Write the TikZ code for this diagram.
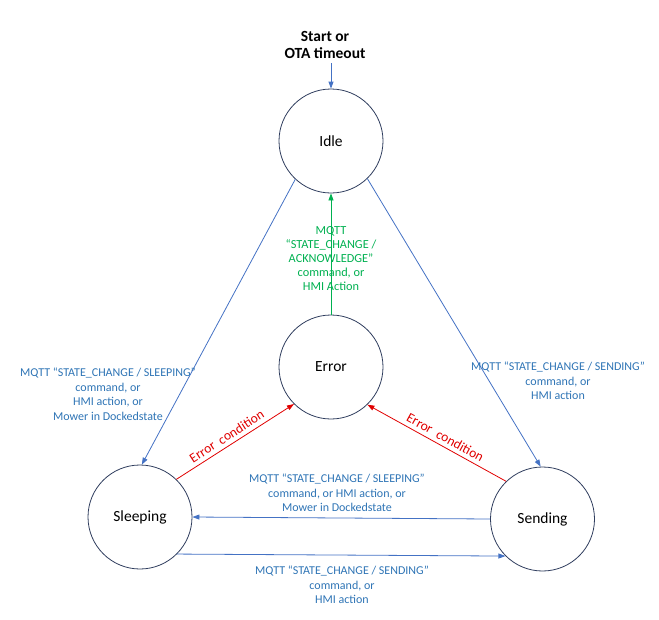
\documentclass[tikz,border=0pt]{standalone}
\usepackage{fontspec}
\setmainfont{Carlito}
\usetikzlibrary{arrows.meta}
\definecolor{navy}{HTML}{2F3D5E}
\definecolor{lblue}{HTML}{4472C4}
\definecolor{tblue}{HTML}{2E74B5}
\definecolor{ered}{HTML}{E00000}
\definecolor{agreen}{HTML}{00B050}
\tikzset{
  state/.style={circle, draw=navy, line width=0.8pt, minimum size=104pt, inner sep=0pt, font=\fontsize{15.5}{18}\selectfont},
  lbl/.style={align=center, text=tblue, font=\fontsize{12}{14.5}\selectfont, inner sep=0pt},
  glbl/.style={align=center, text=agreen, font=\fontsize{12.3}{14}\selectfont, inner sep=0pt},
  bconn/.style={draw=lblue, line width=0.8pt, -{Triangle[length=7pt,width=5pt]}},
  rconn/.style={draw=ered, line width=0.8pt, -{Triangle[length=7pt,width=5pt]}},
  gconn/.style={draw=agreen, line width=0.8pt, -{Triangle[length=7pt,width=5pt]}},
  rlbl/.style={text=ered, font=\fontsize{13.5}{15}\selectfont, sloped, above, inner sep=4pt}
}
\begin{document}
\begin{tikzpicture}[x=1pt,y=-1pt]
\useasboundingbox (0,0) rectangle (659,619);
\node[state] (idle) at (331,141) {Idle};
\node[state] (error) at (331,367) {Error};
\node[state] (sleeping) at (140,517) {Sleeping};
\node[state] (sending) at (542.5,519) {Sending};

\node[align=center, font=\bfseries\fontsize{15.5}{17}\selectfont, inner sep=0pt] (start) at (325,45) {Start or\\OTA timeout};
\coordinate (startpt) at (331,63);
\draw[bconn] (startpt) -- (idle.north);

\draw[bconn] (idle.227) -- (sleeping.88);
\draw[bconn] (idle.314) -- (sending.92);
\draw[gconn] (error.north) -- (idle.south);
\node[glbl] (glab) at (331,259) {MQTT\\“STATE\_CHANGE /\\ACKNOWLEDGE”\\command, or\\HMI Action};

\draw[rconn] (sleeping.46) -- node[rlbl, pos=0.47] (el) {Error\ \ condition} (error.225);
\draw[rconn] (sending.134) -- node[rlbl, pos=0.47] (er) {Error\ \ condition} (error.314);

\draw[bconn] (sending.west) -- (sleeping.east);
\draw[bconn] (sleeping.315) -- (sending.225);

\node[lbl] (l1) at (108,394) {MQTT “STATE\_CHANGE / SLEEPING”\\command, or\\HMI action, or\\Mower in Dockedstate};
\node[lbl] (l2) at (558,381) {MQTT “STATE\_CHANGE / SENDING”\\command, or\\HMI action};
\node[lbl] (l3) at (337,493) {MQTT “STATE\_CHANGE / SLEEPING”\\command, or HMI action, or\\Mower in Dockedstate};
\node[lbl] (l4) at (342,585) {MQTT “STATE\_CHANGE / SENDING”\\command, or\\HMI action};
\end{tikzpicture}
\end{document}
